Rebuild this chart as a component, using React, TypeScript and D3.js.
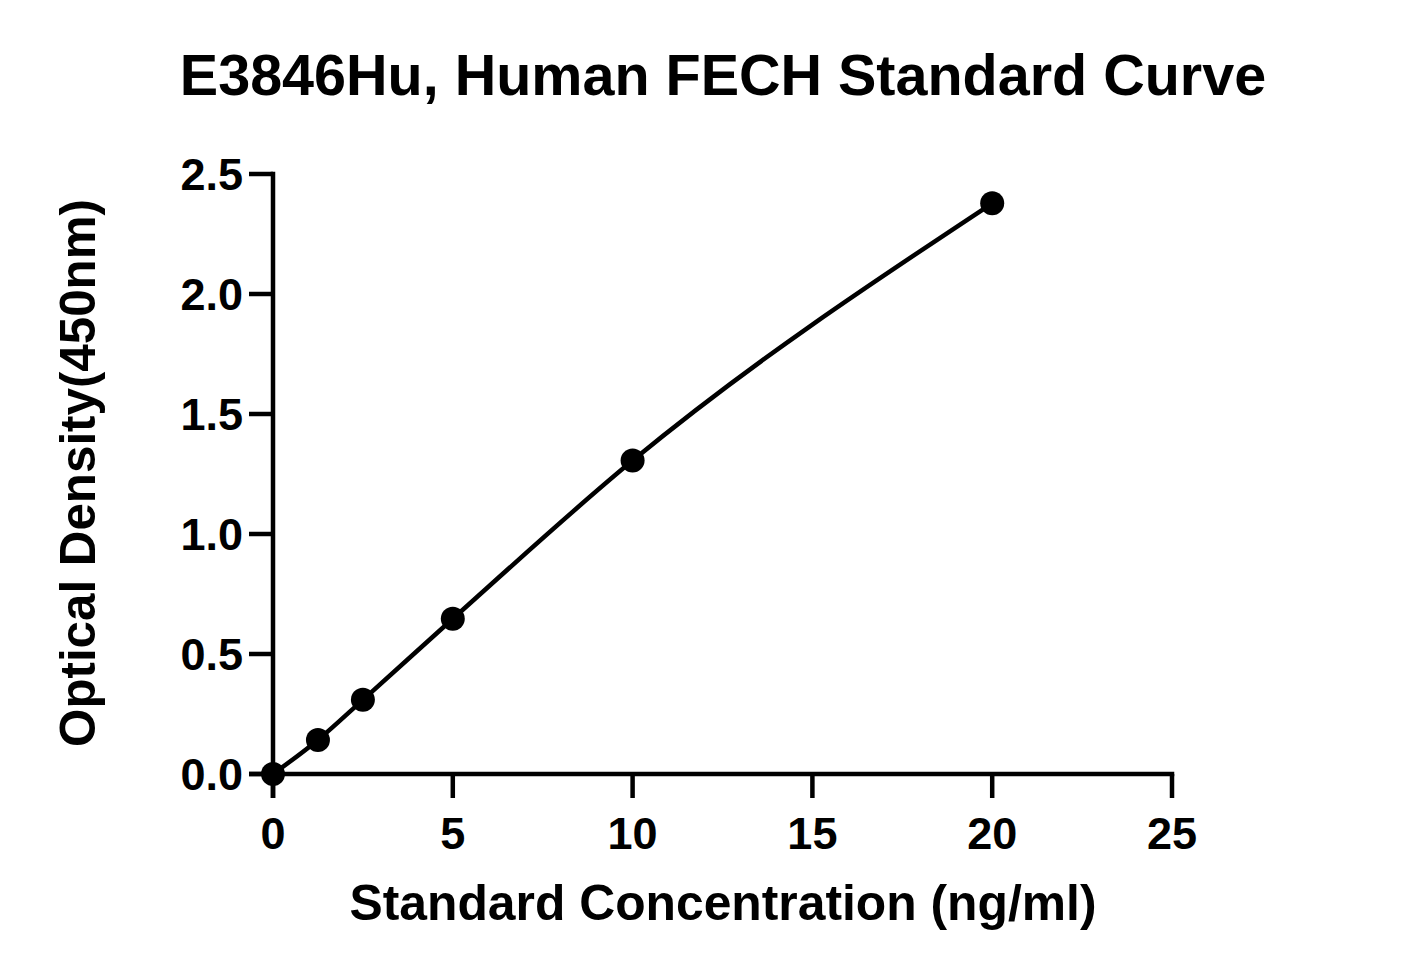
import React from 'react'
import * as d3 from 'd3'

// Standard curve readings
const concentrations = [0, 1.25, 2.5, 5, 10, 20]
const densities = [0.0, 0.142, 0.309, 0.647, 1.306, 2.378]
const xTicks = [0, 5, 10, 15, 20, 25]
const yTicks = [0, 0.5, 1.0, 1.5, 2.0, 2.5]

const title = 'E3846Hu, Human FECH Standard Curve'
const xLabel = 'Standard Concentration (ng/ml)'
const yLabel = 'Optical Density(450nm)'

const W = 1410
const H = 975
const FONT = '"Liberation Sans", Arial, sans-serif'

const App: React.FC = () => {
  const margin = { left: 273, right: 238, top: 174, bottom: 201 }
  const x = d3.scaleLinear().domain([0, 25]).range([margin.left, W - margin.right])
  const y = d3.scaleLinear().domain([0, 2.5]).range([H - margin.bottom, margin.top])

  const points = concentrations.map((c, i) => ({ c, od: densities[i] }))

  const line = d3.line<{ c: number; od: number }>()
    .x(d => x(d.c))
    .y(d => y(d.od))
    .curve(d3.curveMonotoneX)

  const tickLen = 24
  const sw = 4.5

  return (
    <svg width={W} height={H} style={{ position: 'absolute', left: 0, top: 0, background: '#fff' }}
      fontFamily={FONT} fontWeight="bold">
      {/* title */}
      <text x={723} y={95} textAnchor="middle" fontSize={57.5}>{title}</text>

      {/* y axis */}
      <line x1={x(0)} x2={x(0)} y1={y(0) + tickLen} y2={y(2.5) - sw / 2} stroke="#000" strokeWidth={sw} />
      {yTicks.map(t => (
        <g key={`y${t}`}>
          <line x1={x(0) - tickLen} x2={x(0)} y1={y(t)} y2={y(t)} stroke="#000" strokeWidth={sw} />
          <text x={x(0) - 30} y={y(t)} dy="0.36em" textAnchor="end" fontSize={45}>{t.toFixed(1)}</text>
        </g>
      ))}

      {/* x axis */}
      <line x1={x(0) - tickLen} x2={x(25) + sw / 2} y1={y(0)} y2={y(0)} stroke="#000" strokeWidth={sw} />
      {xTicks.map(t => (
        <g key={`x${t}`}>
          <line x1={x(t)} x2={x(t)} y1={y(0)} y2={y(0) + tickLen} stroke="#000" strokeWidth={sw} />
          <text x={x(t)} y={849} textAnchor="middle" fontSize={45}>{t}</text>
        </g>
      ))}

      {/* axis labels */}
      <text x={723} y={920} textAnchor="middle" fontSize={49.8}>{xLabel}</text>
      <text transform={`translate(95,${473}) rotate(-90)`} textAnchor="middle" fontSize={49.3}>{yLabel}</text>

      {/* fitted curve */}
      <path d={line(points) || ''} fill="none" stroke="#000" strokeWidth={sw} />

      {/* points */}
      {points.map(p => (
        <circle key={p.c} cx={x(p.c)} cy={y(p.od)} r={12} fill="#000" />
      ))}
    </svg>
  )
}

export default App
